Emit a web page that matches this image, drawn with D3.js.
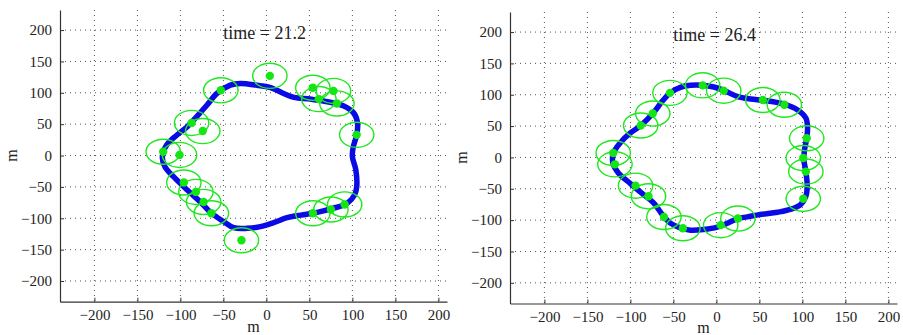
<!DOCTYPE html>
<html><head><meta charset="utf-8">
<script src="https://cdn.jsdelivr.net/npm/d3@7/dist/d3.min.js"></script>
<style>
html,body{margin:0;padding:0;background:#fff;}
svg{display:block;}
</style></head><body>
<script>
// ---- data ----
const xTicks = [-200,-150,-100,-50,0,50,100,150,200];
const yTicks = [-200,-150,-100,-50,0,50,100,150,200];
const titles = ["time = 21.2", "time = 26.4"];
const axisLabel = "m";

// panel A (time = 21.2): robot positions
const robotsA_x = [4,-53,54,78,61,82,105,-87,-74,-120,-101,-96,-82,-73,-64,-29,54,75,91];
const robotsA_y = [127,104,108,103,90,83,33,52,39,6,1,-43,-58,-74,-92,-135,-92,-86,-78];
// panel A: boundary curve
const curveA_x = [-30,-11,4,20,32,51,71,90,102,106,105,101,100,104,105,102.5,94,78,59,40,24,8.5,-7,-22.5,-38,-50,-64,-77,-92,-108,-118,-121,-116,-104,-92,-81,-69,-57.5,-42];
const curveA_y = [115,112,108.6,99,92.7,90,85.8,78.9,67,51,32.7,14,-2,-23,-50,-63,-76,-84,-90.6,-95,-99,-107,-113.4,-116,-115,-105,-91.6,-73.6,-55,-33.7,-17.8,-2,16.7,32.7,46,62,80.5,99,112.3];

// panel B (time = 26.4): robot positions
const robotsB_x = [-54,-16,8.5,54,79,-74,-88,-120,-118,-94,-79,-61,-39,5,25,105,101,104,101];
const robotsB_y = [103,115,106.5,91.6,84,70,51,7,-11,-45,-62,-95,-113,-108,-97.5,30.5,-1,-22.6,-66];
// panel B: boundary curve
const curveB_x = [-30,-16,-3,8.5,24,40,55,78,94,104,106,105,102.5,101.7,104,105.6,104,98,86,71,51,36,25,12,1,-15,-30,-42,-54,-63,-73,-85,-100,-114,-120.4,-119.6,-112,-100,-88,-74,-63,-54,-42];
const curveB_y = [115,115,112.3,107,97.5,93.2,91,85.3,76,63,47,30.5,12.5,-3.5,-22.6,-46,-62,-75,-83,-87.4,-91,-94.8,-97.5,-105.4,-111.3,-115,-116,-112.3,-104.4,-91,-72.5,-59,-41.7,-24.7,-8.8,7.2,23.1,39,50.7,70,89.5,102.8,111.8];

const robotRadius = 20; // sensing radius in metres

// ---- layout ----
const W = 903, H = 335;
const FONT = "'Liberation Serif', 'Times New Roman', Times, 'DejaVu Serif', serif";
const panels = [
  {left:60, right:447, top:10, bottom:301.7, xlab:331.5, title:titles[0], rx:robotsA_x, ry:robotsA_y, cx:curveA_x, cy:curveA_y},
  {left:510, right:897, top:12, bottom:303.5, xlab:332.5, title:titles[1], rx:robotsB_x, ry:robotsB_y, cx:curveB_x, cy:curveB_y}
];

const svg = d3.select("body").append("svg").attr("width",W).attr("height",H);
const fmt = d => (d<0 ? "\u2212" + Math.abs(d) : String(d));

panels.forEach((p,i) => {
  const x = d3.scaleLinear().domain([-240,210]).range([p.left,p.right]);
  const y = d3.scaleLinear().domain([-233,232]).range([p.bottom,p.top]);
  const g = svg.append("g");

  // grid
  g.append("g").selectAll("line").data(xTicks).join("line")
    .attr("x1",d=>x(d)).attr("x2",d=>x(d)).attr("y1",p.top).attr("y2",p.bottom)
    .attr("stroke","#555").attr("stroke-width",1).attr("stroke-dasharray","1,4");
  g.append("g").selectAll("line").data(yTicks).join("line")
    .attr("y1",d=>y(d)).attr("y2",d=>y(d)).attr("x1",p.left).attr("x2",p.right)
    .attr("stroke","#555").attr("stroke-width",1).attr("stroke-dasharray","1,4");

  // curve
  const pts = p.cx.map((v,k)=>[v,p.cy[k]]);
  const line = d3.line().x(d=>x(d[0])).y(d=>y(d[1])).curve(d3.curveCatmullRomClosed.alpha(0.5));
  g.append("path").attr("d",line(pts)).attr("fill","none")
    .attr("stroke","#0a0ae6").attr("stroke-width",5.5).attr("stroke-linejoin","round");

  // robots
  const robots = p.rx.map((v,k)=>[v,p.ry[k]]);
  g.append("g").selectAll("ellipse").data(robots).join("ellipse")
    .attr("cx",d=>x(d[0])).attr("cy",d=>y(d[1]))
    .attr("rx",x(robotRadius)-x(0)).attr("ry",y(0)-y(robotRadius))
    .attr("fill","none").attr("stroke","#1fe81f").attr("stroke-width",1.4);
  g.append("g").selectAll("circle").data(robots).join("circle")
    .attr("cx",d=>x(d[0])).attr("cy",d=>y(d[1])).attr("r",4.2)
    .attr("fill","#14e614");

  // axes
  const xAxis = d3.axisBottom(x).tickValues(xTicks).tickFormat(fmt).tickSizeInner(-4).tickSizeOuter(0).tickPadding(7.5);
  const yAxis = d3.axisLeft(y).tickValues(yTicks).tickFormat(fmt).tickSizeInner(-4).tickSizeOuter(0).tickPadding(8);
  const gx = g.append("g").attr("transform",`translate(0,${p.bottom})`).call(xAxis);
  const gy = g.append("g").attr("transform",`translate(${p.left},0)`).call(yAxis);
  [gx,gy].forEach(a=>{
    a.attr("font-family",null);
    a.select(".domain").attr("stroke","#333").attr("stroke-width",1.2);
    a.selectAll(".tick line").attr("stroke","#333");
    a.selectAll("text").style("font-family",FONT).attr("font-size",15).attr("fill","#222");
  });
  gx.selectAll("text").attr("dy","0.71em");

  // title
  g.append("text").attr("x",x(-2)).attr("y",p.top+29).attr("text-anchor","middle")
    .style("font-family",FONT).attr("fill","#222").attr("font-size",18).text(p.title);
  // axis labels
  g.append("text").attr("x",(p.left+p.right)/2).attr("y",p.xlab).attr("text-anchor","middle")
    .style("font-family",FONT).attr("fill","#222").attr("font-size",16).text(axisLabel);
  g.append("text").attr("transform",`translate(${p.left-43},${y(0)}) rotate(-90)`)
    .attr("text-anchor","middle").style("font-family",FONT).attr("fill","#222").attr("font-size",16).text(axisLabel);
});
</script>
</body></html>
